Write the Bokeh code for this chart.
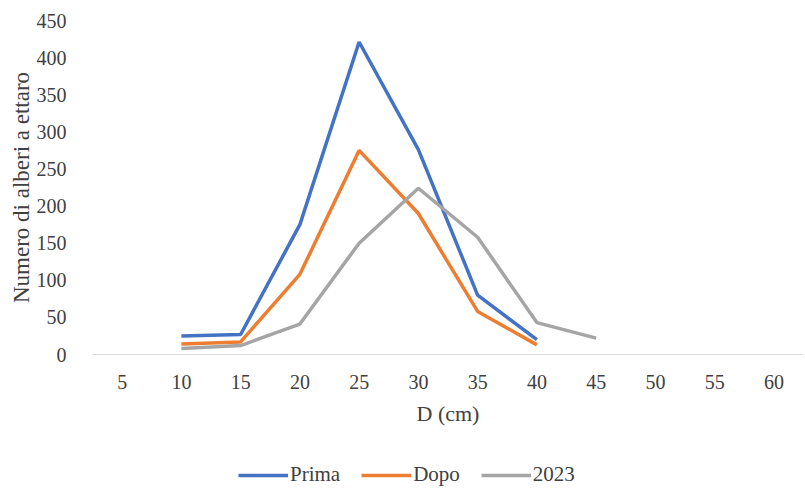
from bokeh.plotting import figure
from bokeh.layouts import column
from bokeh.models import FactorRange, Range1d, Legend, LegendItem, SingleIntervalTicker
from bokeh.embed import file_html
from bokeh.resources import INLINE

cats = ["5", "10", "15", "20", "25", "30", "35", "40", "45", "50", "55", "60"]
prima_x = ["10", "15", "20", "25", "30", "35", "40"]
prima_y = [25, 27, 175, 421, 276, 80, 20]
dopo_x = ["10", "15", "20", "25", "30", "35", "40"]
dopo_y = [14, 17, 108, 275, 190, 58, 13]
y2023_x = ["10", "15", "20", "25", "30", "35", "40", "45"]
y2023_y = [8, 12, 41, 150, 224, 158, 43, 22]
series_names = ["Prima", "Dopo", "2023"]
series_colors = ["#4472C4", "#ED7D31", "#A5A5A5"]

FONT = "Liberation Serif"
TXT = "#404040"

p = figure(frame_width=711, frame_height=334, x_range=FactorRange(*cats), y_range=Range1d(0, 450),
           output_backend="svg", toolbar_location=None,
           min_border_left=92, min_border_top=20, min_border_right=0, min_border_bottom=80)
p.outline_line_color = None
p.xgrid.grid_line_color = None
p.ygrid.grid_line_color = None
p.x_range.range_padding = 0
p.x_range.group_padding = 0

p.line(prima_x, prima_y, line_color=series_colors[0], line_width=3.5)
p.line(dopo_x, dopo_y, line_color=series_colors[1], line_width=3.5)
p.line(y2023_x, y2023_y, line_color=series_colors[2], line_width=3.5)

p.yaxis.ticker = SingleIntervalTicker(interval=50)
p.yaxis.axis_line_color = None
p.yaxis.major_tick_line_color = None
p.yaxis.minor_tick_line_color = None
p.yaxis.major_label_text_font = FONT
p.yaxis.major_label_text_font_size = "20px"
p.yaxis.major_label_text_color = TXT
p.yaxis.major_label_standoff = 20
p.yaxis.axis_label = "Numero di alberi a ettaro"
p.yaxis.axis_label_text_font = FONT
p.yaxis.axis_label_text_font_style = "normal"
p.yaxis.axis_label_text_font_size = "23px"
p.yaxis.axis_label_text_color = TXT
p.yaxis.axis_label_standoff = 0

p.xaxis.axis_line_color = "#D9D9D9"
p.xaxis.axis_line_width = 1
p.xaxis.major_tick_line_color = None
p.xaxis.minor_tick_line_color = None
p.xaxis.major_label_text_font = FONT
p.xaxis.major_label_text_font_size = "20px"
p.xaxis.major_label_text_color = TXT
p.xaxis.major_label_standoff = 14
p.xaxis.axis_label = "D (cm)"
p.xaxis.axis_label_text_font = FONT
p.xaxis.axis_label_text_font_style = "normal"
p.xaxis.axis_label_text_font_size = "22px"
p.xaxis.axis_label_text_color = TXT
p.xaxis.axis_label_standoff = 9

# legend strip below the chart
p2 = figure(width=803, height=53, output_backend="svg", toolbar_location=None,
            x_axis_type=None, y_axis_type=None, min_border=0,
            x_range=Range1d(0, 1), y_range=Range1d(0, 1))
p2.outline_line_color = None
p2.xgrid.grid_line_color = None
p2.ygrid.grid_line_color = None
items = []
for name, col in zip(series_names, series_colors):
    # off-screen proxy line so the legend can draw its swatch
    r = p2.line(x=[-10, -9], y=[-10, -9], line_color=col, line_width=3.5)
    items.append(LegendItem(label=name, renderers=[r]))

legend = Legend(items=items, orientation="horizontal", location=(146, 0),
                label_text_font=FONT, label_text_font_size="21px", label_text_color=TXT,
                glyph_width=50, glyph_height=16, spacing=21, label_standoff=2,
                border_line_color=None, background_fill_alpha=0, margin=0, padding=0)
p2.add_layout(legend, "center")

layout = column(p, p2, spacing=0)
open("out.html", "w").write(file_html(layout, INLINE))
